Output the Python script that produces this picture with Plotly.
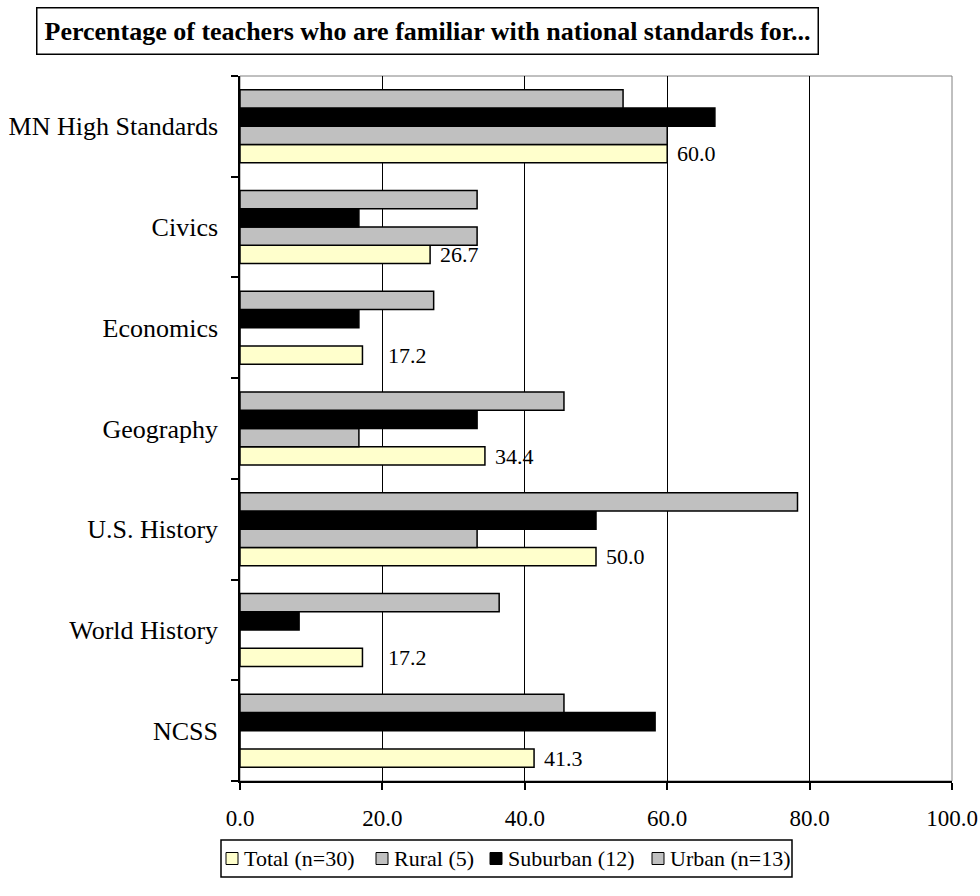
import plotly.graph_objects as go

# Subjects listed bottom-to-top so that the first one sits at the bottom of the axis
subjects = ["NCSS", "World History", "U.S. History", "Geography",
            "Economics", "Civics", "MN High Standards"]

total = [41.3, 17.2, 50.0, 34.4, 17.2, 26.7, 60.0]
rural = [0.0, 0.0, 33.3, 16.7, 0.0, 33.3, 60.0]
suburban = [58.3, 8.3, 50.0, 33.3, 16.7, 16.7, 66.7]
urban = [45.5, 36.4, 78.3, 45.5, 27.2, 33.3, 53.8]

series_names = ["Total (n=30)", "Rural (5)", "Suburban (12)", "Urban (n=13)"]
series_values = [total, rural, suburban, urban]
series_colors = ["#FFFFCC", "#C0C0C0", "#000000", "#C0C0C0"]

x_ticks = [0, 20, 40, 60, 80, 100]

# Extra horizontal gap (px) between each Total bar and its value label
label_gap = [8, 24, 8, 8, 24, 8, 8]

FONT = "Liberation Serif, Times New Roman, serif"

# Plot area in pixels (left, right, top, bottom)
PL, PR, PT, PB = 240, 952, 76, 781


def px_x(px):
    return (px - PL) / (PR - PL)


def px_y(py):
    return (PB - py) / (PB - PT)


fig = go.Figure()
for name, vals, col in zip(series_names, series_values, series_colors):
    fig.add_trace(go.Bar(
        y=subjects, x=vals, name=name, orientation="h",
        marker=dict(color=col, line=dict(color="#000000", width=1.5)),
        showlegend=False,
    ))

# Value labels for the Total series (bottom bar of each group)
for subj, v, gap in zip(subjects, total, label_gap):
    fig.add_annotation(
        x=v, y=subj, xref="x", yref="y",
        text=f"{v:.1f}", showarrow=False,
        xanchor="left", yanchor="middle",
        xshift=gap, yshift=-27.5,
        font=dict(family=FONT, size=22, color="#000000"),
    )

# Boxed chart title
fig.add_annotation(
    x=px_x(427), y=px_y(31.5), xref="paper", yref="paper",
    text="<b>Percentage of teachers who are familiar with national standards for...</b>",
    showarrow=False, xanchor="center", yanchor="middle",
    width=776, height=41,
    bordercolor="#000000", borderwidth=1.5, borderpad=2,
    font=dict(family=FONT, size=26, color="#000000"),
)

# Gray frame around the plotting area
fig.add_shape(type="rect", xref="paper", yref="paper", x0=0, x1=1, y0=0, y1=1,
              line=dict(color="#808080", width=1), layer="below")

# Legend drawn as a boxed row of swatches and labels
legend_box = (221, 792, 840, 877)
legend_swatch_x = [226, 376, 490, 652]
swatch = 12
legend_cy = (legend_box[2] + legend_box[3]) / 2
fig.add_shape(type="rect", xref="paper", yref="paper",
              x0=px_x(legend_box[0]), x1=px_x(legend_box[1]),
              y0=px_y(legend_box[3]), y1=px_y(legend_box[2]),
              line=dict(color="#000000", width=1.5), fillcolor="#FFFFFF")
for name, col, sx in zip(series_names, series_colors, legend_swatch_x):
    fig.add_shape(type="rect", xref="paper", yref="paper",
                  x0=px_x(sx), x1=px_x(sx + swatch),
                  y0=px_y(legend_cy + swatch / 2), y1=px_y(legend_cy - swatch / 2),
                  line=dict(color="#000000", width=1), fillcolor=col)
    fig.add_annotation(
        x=px_x(sx + swatch + 4), y=px_y(legend_cy), xref="paper", yref="paper",
        text=name, showarrow=False, xanchor="left", yanchor="middle",
        font=dict(family=FONT, size=22, color="#000000"),
    )

fig.update_layout(
    width=980, height=896,
    margin=dict(l=PL, r=980 - PR, t=PT, b=896 - PB, autoexpand=False),
    paper_bgcolor="#FFFFFF", plot_bgcolor="#FFFFFF",
    barmode="group", bargap=0.275, bargroupgap=0,
    font=dict(family=FONT, size=22, color="#000000"),
    showlegend=False,
    xaxis=dict(
        range=[0, 100], tickvals=x_ticks,
        ticktext=[f"{t:.1f}" for t in x_ticks],
        showgrid=True, gridcolor="#000000", gridwidth=1,
        zeroline=False, showline=True, linecolor="#000000", linewidth=1.5,
        ticks="outside", ticklen=7, tickcolor="#000000", tickwidth=1.5,
        ticklabelstandoff=9, automargin=False,
        tickfont=dict(family=FONT, size=23),
    ),
    yaxis=dict(
        type="category", categoryorder="array", categoryarray=subjects,
        showgrid=False, zeroline=False,
        showline=True, linecolor="#000000", linewidth=1.5,
        ticks="outside", tickson="boundaries", ticklen=7,
        tickcolor="#000000", tickwidth=1.5,
        ticklabelstandoff=15, automargin=False,
        tickfont=dict(family=FONT, size=26),
    ),
)

fig.write_html("out.html")
